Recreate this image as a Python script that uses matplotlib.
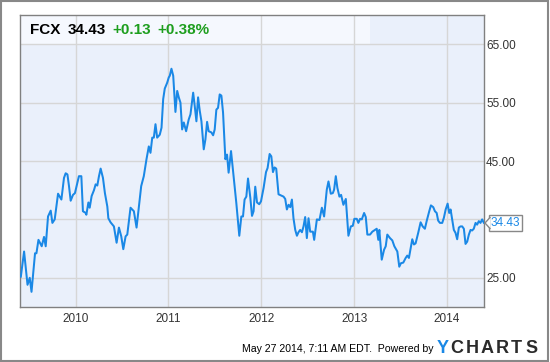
import matplotlib.pyplot as plt
from matplotlib.patches import Rectangle, Polygon
from matplotlib.lines import Line2D

# FCX weekly-ish closes (x = decimal year)
years = [2009.409, 2009.444, 2009.481, 2009.505, 2009.524, 2009.562, 2009.577, 2009.599,
         2009.634, 2009.659, 2009.677, 2009.702, 2009.731, 2009.749, 2009.774, 2009.810,
         2009.846, 2009.874, 2009.892, 2009.911, 2009.928, 2009.946, 2009.971, 2009.992,
         2010.018, 2010.035, 2010.061, 2010.078, 2010.108, 2010.115, 2010.137, 2010.151,
         2010.172, 2010.197, 2010.215, 2010.233, 2010.251, 2010.269, 2010.294, 2010.315,
         2010.341, 2010.352, 2010.376, 2010.412, 2010.441, 2010.466, 2010.491, 2010.513,
         2010.538, 2010.556, 2010.591, 2010.627, 2010.656, 2010.681, 2010.706, 2010.734,
         2010.763, 2010.788, 2010.806, 2010.825, 2010.842, 2010.860, 2010.878, 2010.906,
         2010.925, 2010.943, 2010.960, 2010.986, 2011.003, 2011.014, 2011.032, 2011.051,
         2011.075, 2011.094, 2011.111, 2011.129, 2011.147, 2011.165, 2011.190, 2011.218,
         2011.237, 2011.266, 2011.283, 2011.301, 2011.319, 2011.337, 2011.355, 2011.380,
         2011.398, 2011.416, 2011.433, 2011.462, 2011.481, 2011.498, 2011.516, 2011.534,
         2011.552, 2011.570, 2011.588, 2011.613, 2011.631, 2011.648, 2011.674, 2011.702,
         2011.731, 2011.763, 2011.785, 2011.803, 2011.820, 2011.839, 2011.857, 2011.882,
         2011.900, 2011.917, 2011.935, 2011.954, 2011.978, 2011.997, 2012.025, 2012.051,
         2012.068, 2012.090, 2012.108, 2012.126, 2012.143, 2012.161, 2012.186, 2012.212,
         2012.240, 2012.258, 2012.276, 2012.294, 2012.312, 2012.330, 2012.347, 2012.366,
         2012.384, 2012.401, 2012.419, 2012.438, 2012.455, 2012.473, 2012.491, 2012.509,
         2012.527, 2012.556, 2012.570, 2012.599, 2012.627, 2012.653, 2012.677, 2012.706,
         2012.724, 2012.749, 2012.771, 2012.785, 2012.803, 2012.820, 2012.842, 2012.860,
         2012.885, 2012.911, 2012.939, 2012.965, 2012.986, 2013.003, 2013.029, 2013.046,
         2013.065, 2013.083, 2013.108, 2013.126, 2013.143, 2013.172, 2013.197, 2013.226,
         2013.244, 2013.261, 2013.272, 2013.298, 2013.323, 2013.341, 2013.358, 2013.387,
         2013.412, 2013.434, 2013.466, 2013.477, 2013.487, 2013.505, 2013.530, 2013.556,
         2013.573, 2013.591, 2013.610, 2013.627, 2013.645, 2013.663, 2013.691, 2013.717,
         2013.739, 2013.763, 2013.782, 2013.810, 2013.828, 2013.853, 2013.871, 2013.890,
         2013.906, 2013.925, 2013.950, 2013.968, 2013.987, 2014.008, 2014.025, 2014.040,
         2014.057, 2014.075, 2014.093, 2014.111, 2014.129, 2014.147, 2014.165, 2014.183,
         2014.201, 2014.219, 2014.237, 2014.255, 2014.272, 2014.290, 2014.309, 2014.326,
         2014.344, 2014.362, 2014.380, 2014.398]
prices = [25.2, 29.5, 23.8, 25.0, 22.6, 29.2, 29.2, 31.5,
          30.4, 32.0, 30.4, 35.5, 36.5, 34.4, 35.0, 39.4,
          38.4, 42.1, 42.9, 42.7, 40.7, 38.2, 39.2, 39.5,
          41.3, 42.4, 42.4, 36.4, 36.1, 35.8, 37.9, 37.0,
          39.0, 40.0, 41.0, 40.8, 42.4, 43.7, 42.1, 39.5,
          37.2, 35.2, 34.5, 33.8, 31.0, 33.6, 32.1, 29.9,
          32.1, 32.4, 37.0, 36.4, 33.6, 37.2, 40.7, 42.4,
          45.3, 47.5, 46.4, 49.0, 49.0, 51.3, 49.0, 49.5,
          50.7, 55.6, 57.4, 58.4, 59.3, 59.6, 60.8, 59.6,
          53.4, 57.0, 55.9, 55.0, 50.4, 51.6, 50.1, 52.1,
          53.0, 56.7, 54.4, 51.8, 55.9, 53.6, 51.8, 47.0,
          48.7, 51.7, 50.1, 49.9, 49.4, 50.4, 53.8, 54.1,
          56.4, 56.2, 53.3, 45.3, 46.1, 43.0, 46.7, 42.4,
          37.8, 32.2, 35.5, 35.5, 38.4, 38.9, 42.0, 38.7,
          35.6, 36.4, 40.6, 37.9, 37.6, 38.1, 40.4, 43.1,
          43.8, 46.2, 45.8, 43.1, 43.9, 43.7, 39.3, 39.1,
          38.9, 38.5, 36.7, 37.5, 37.1, 38.4, 35.2, 33.2,
          32.2, 32.8, 33.2, 32.8, 33.8, 35.4, 31.8, 35.2,
          32.9, 32.9, 31.5, 35.0, 34.9, 37.0, 35.5, 40.1,
          41.5, 39.4, 39.5, 40.1, 42.4, 40.4, 38.9, 39.2,
          37.5, 38.5, 32.2, 33.8, 33.9, 35.1, 35.1, 34.4,
          35.1, 35.0, 36.1, 35.4, 32.4, 32.4, 32.9, 33.2,
          33.4, 31.5, 33.2, 28.1, 29.8, 30.4, 32.4, 31.8,
          31.4, 30.4, 29.5, 28.1, 26.9, 27.5, 27.6, 28.4,
          28.8, 28.4, 30.1, 31.6, 30.7, 30.9, 32.7, 34.5,
          33.8, 33.4, 34.7, 36.4, 37.4, 37.1, 36.4, 36.1,
          34.8, 34.4, 34.4, 35.3, 36.7, 37.7, 36.1, 36.7,
          35.0, 33.2, 32.7, 31.6, 33.6, 33.8, 33.8, 33.4,
          30.8, 31.2, 32.4, 33.2, 33.1, 33.4, 34.4, 34.1,
          34.7, 34.4, 35.0, 34.43]

x_ticks = [2010, 2011, 2012, 2013, 2014]
x_labels = ['2010', '2011', '2012', '2013', '2014']
y_ticks = [25, 35, 45, 55, 65]
y_labels = ['25.00', '', '45.00', '55.00', '65.00']

ticker = 'FCX'
last = '34.43'
change = '+0.13'
change_pct = '+0.38%'
footer = 'May 27 2014, 7:11 AM EDT.  Powered by'

W, H = 550, 362
line_col = '#1a88e6'
green = '#1e9e1e'
txt_col = '#333333'
plt.rcParams['font.family'] = ['Liberation Sans', 'DejaVu Sans']

fig = plt.figure(figsize=(W / 100, H / 100), dpi=100)


def fx(px):
    return px / W


def fy(py):
    return 1 - py / H


# plot area in pixels: x 20..484, y 15..307
ax = fig.add_axes([fx(20), fy(307), fx(484) - fx(20), fy(15) - fy(307)])
ax.set_facecolor('#eaf0fb')
ax.set_xlim(2009.40, 2014.40)
ax.set_ylim(20, 70)

# lighter band behind the header text
ax.add_patch(Rectangle((2009.40, 65), 2013.17 - 2009.40, 5,
                       facecolor='#f5f8fe', edgecolor='none', zorder=0.1))

ax.plot(years, prices, color=line_col, lw=1.45, zorder=3, solid_joinstyle='round')

ax.set_axisbelow(True)
ax.grid(True, color='#d6d6d6', lw=1)
ax.set_xticks(x_ticks)
ax.set_xticklabels(x_labels)
ax.set_yticks(y_ticks)
ax.set_yticklabels(y_labels)
ax.yaxis.tick_right()
ax.tick_params(axis='both', length=0, labelsize=8.5, labelcolor=txt_col)
ax.tick_params(axis='x', pad=4.5)
ax.tick_params(axis='y', pad=1.5)
for s in ax.spines.values():
    s.set_color('#808080')
    s.set_linewidth(1)

# header
hy = fy(33.7)
fig.text(fx(30), hy, ticker, fontsize=11, fontweight='bold', color='black', va='baseline')
fig.text(fx(68), hy, last, fontsize=11, fontweight='bold', color='black', va='baseline')
fig.text(fx(112), hy, change, fontsize=11, fontweight='bold', color=green, va='baseline')
fig.text(fx(157), hy, change_pct, fontsize=11, fontweight='bold', color=green, va='baseline')

# last price flag
fig.text(fx(505.5), fy(223), last, fontsize=8.5, color=line_col, ha='center', va='center',
         zorder=5, bbox=dict(boxstyle='square,pad=0.18', fc='white', ec='#888888', lw=1))
fig.patches.append(Polygon([[fx(490), fy(217.5)], [fx(485), fy(223)], [fx(490), fy(228.5)]],
                           closed=True, fc='white', ec='none', transform=fig.transFigure,
                           zorder=6))
fig.lines.append(Line2D([fx(490), fx(485), fx(490)], [fy(217.5), fy(223), fy(228.5)],
                        color='#888888', lw=1, transform=fig.transFigure, zorder=7))

# footer
fig.text(fx(433), fy(352), footer, fontsize=7.6, color='black', ha='right', va='baseline')
logo = 'YCHARTS'
logo_x = [443, 456.5, 472, 487, 502, 516, 532]
for ch, lx in zip(logo, logo_x):
    fig.text(fx(lx), fy(353), ch, fontsize=13, fontweight='bold', ha='center',
             va='baseline', color=line_col if ch == 'Y' else '#2b2b2b')

# outer frame
fig.patches.append(Rectangle((fx(1), fy(360.5)), fx(546.5), fy(1) - fy(360.5),
                             fill=False, ec='#888888', lw=1.5, transform=fig.transFigure))

fig.savefig('out.png', dpi=100)
